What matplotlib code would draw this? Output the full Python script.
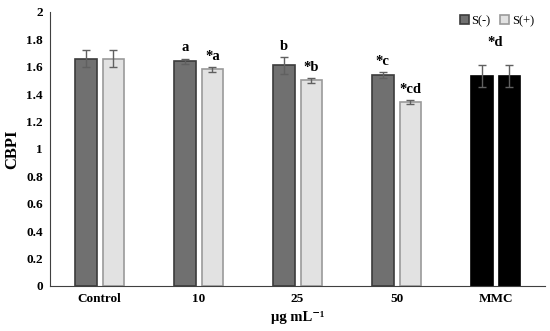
import numpy as np
import matplotlib
matplotlib.use('Agg')
import matplotlib.pyplot as plt

# data
groups = ['Control', '10', '25', '50', 'MMC']
s_minus = [1.66, 1.64, 1.61, 1.54, 1.53]
s_minus_err = [0.06, 0.02, 0.06, 0.02, 0.08]
s_plus = [1.66, 1.58, 1.50, 1.34, 1.53]
s_plus_err = [0.06, 0.015, 0.02, 0.015, 0.08]
lab_minus = ['', 'a', 'b', '*c', '']
lab_plus = ['', '*a', '*b', '*cd', '']
mmc_label = '*d'

plt.rcParams['font.family'] = ['Liberation Serif', 'DejaVu Serif']

fig = plt.figure(figsize=(5.5, 3.31), dpi=100)
ax = fig.add_axes([0.091, 0.136, 0.9, 0.828])

x = np.arange(len(groups))
w = 0.22
off = 0.14

col_m = ['#707070'] * 4 + ['#000000']
col_p = ['#e2e2e2'] * 4 + ['#000000']
edge_m = ['#3c3c3c'] * 4 + ['#000000']
edge_p = ['#9a9a9a'] * 4 + ['#000000']

b1 = ax.bar(x - off, s_minus, w, color=col_m, edgecolor=edge_m, linewidth=1.2, label='S(-)')
b2 = ax.bar(x + off, s_plus, w, color=col_p, edgecolor=edge_p, linewidth=1.2, label='S(+)')
ax.errorbar(x - off, s_minus, yerr=s_minus_err, fmt='none', ecolor='#606060', elinewidth=1, capsize=3)
ax.errorbar(x + off, s_plus, yerr=s_plus_err, fmt='none', ecolor='#606060', elinewidth=1, capsize=3)

for i in range(len(groups)):
    if lab_minus[i]:
        ax.text(x[i] - off, s_minus[i] + s_minus_err[i] + 0.03, lab_minus[i], ha='center', va='bottom',
                fontsize=10.5, fontweight='bold')
    if lab_plus[i]:
        ax.text(x[i] + off, s_plus[i] + s_plus_err[i] + 0.03, lab_plus[i], ha='center', va='bottom',
                fontsize=10.5, fontweight='bold')
ax.text(x[4], s_minus[4] + s_minus_err[4] + 0.12, mmc_label, ha='center', va='bottom',
        fontsize=10.5, fontweight='bold')

ax.set_xlim(-0.5, 4.5)
ax.set_ylim(0, 2)
ax.set_yticks(np.arange(0, 2.01, 0.2))
ax.set_yticklabels(['0', '0.2', '0.4', '0.6', '0.8', '1', '1.2', '1.4', '1.6', '1.8', '2'])
ax.set_xticks(x)
ax.set_xticklabels(groups)
ax.tick_params(axis='y', length=0, labelsize=9.5, pad=5)
ax.tick_params(axis='x', length=0, labelsize=9.5, pad=5)
for t in ax.get_xticklabels() + ax.get_yticklabels():
    t.set_fontweight('bold')
ax.spines['top'].set_visible(False)
ax.spines['right'].set_visible(False)
ax.spines['left'].set_color('#404040')
ax.spines['bottom'].set_color('#404040')
ax.set_ylabel('CBPI', fontsize=12, fontweight='bold', va='center')
ax.yaxis.set_label_coords(-0.076, 0.5)
ax.set_xlabel('µg mL⁻¹', fontsize=10.5, fontweight='bold', va='center')
ax.xaxis.set_label_coords(0.5, -0.115)

leg = ax.legend(handles=[b1[0], b2[0]], labels=['S(-)', 'S(+)'], loc='upper right', ncol=2,
                frameon=False, fontsize=9, handlelength=0.7, handleheight=0.7,
                handletextpad=0.2, columnspacing=0.8, bbox_to_anchor=(1.0, 1.03))
leg.legend_handles[0].set_facecolor('#707070')
leg.legend_handles[1].set_facecolor('#e2e2e2')

fig.savefig('out.png', dpi=100)
